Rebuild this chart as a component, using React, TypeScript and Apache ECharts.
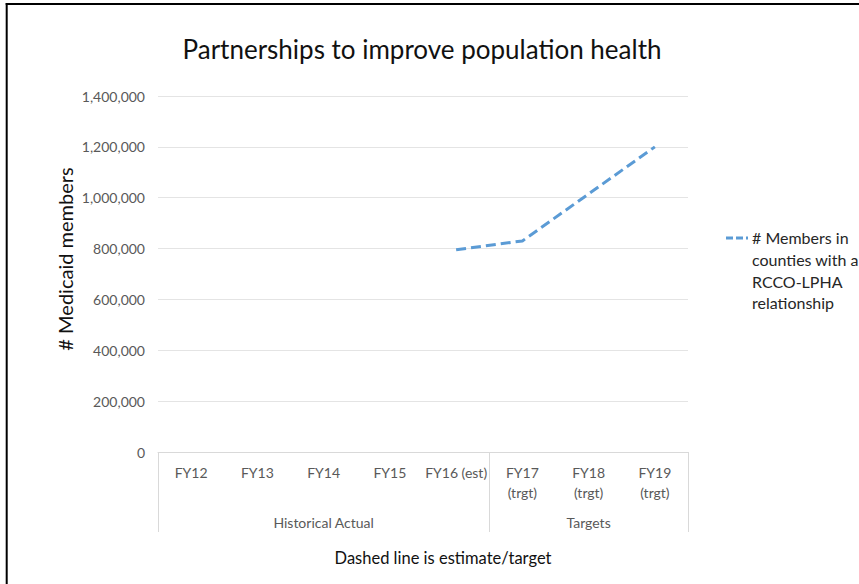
import React, { useEffect, useRef } from "react";
import * as echarts from "echarts";

const categories = [
  "FY12",
  "FY13",
  "FY14",
  "FY15",
  "FY16 (est)",
  "FY17\n(trgt)",
  "FY18\n(trgt)",
  "FY19\n(trgt)",
];
const groupLabels = ["Historical Actual", "Targets"];
const groupSizes = [5, 3];
const members: (number | null)[] = [null, null, null, null, 795000, 830000, 1015000, 1200000];
const yMin = 0;
const yMax = 1400000;
const yInterval = 200000;
const titleText = "Partnerships to improve population health";
const yAxisTitle = "# Medicaid members";
const xAxisTitle = "Dashed line is estimate/target";
const seriesName = "# Members in counties with a RCCO-LPHA relationship";
const legendLines = ["# Members in", "counties with a", "RCCO-LPHA", "relationship"];

const FONT = "Lato, 'Open Sans', sans-serif";
const LINE_COLOR = "#5B9BD5";
const GRID_LEFT = 158;
const GRID_RIGHT = 171;
const GRID_TOP = 96;
const GRID_BOTTOM = 132;

export default function App() {
  const ref = useRef<HTMLDivElement>(null);
  useEffect(() => {
    if (!ref.current) return;
    const chart = echarts.init(ref.current, null, { renderer: "svg" });
    chart.setOption({
      animation: false,
      backgroundColor: "#ffffff",
      title: {
        text: titleText,
        left: 422,
        top: 36,
        textAlign: "center",
        padding: 0,
        textStyle: { fontFamily: FONT, fontSize: 26, fontWeight: "normal", color: "#111" },
      },
      grid: { left: GRID_LEFT, right: GRID_RIGHT, top: GRID_TOP, bottom: GRID_BOTTOM },
      xAxis: {
        type: "category",
        data: categories,
        boundaryGap: true,
        axisLine: { show: true, lineStyle: { color: "#d9d9d9", width: 1 } },
        axisTick: { show: false },
        axisLabel: {
          interval: 0,
          color: "#595959",
          fontFamily: FONT,
          fontSize: 14,
          lineHeight: 20,
          margin: 10,
        },
        splitLine: { show: false },
      },
      yAxis: {
        type: "value",
        min: yMin,
        max: yMax,
        interval: yInterval,
        axisLine: { show: false },
        axisTick: { show: false },
        axisLabel: {
          color: "#595959",
          fontFamily: FONT,
          fontSize: 14,
          margin: 13,
          formatter: (v: number) => v.toLocaleString("en-US"),
        },
        splitLine: { lineStyle: { color: "#e4e4e4", width: 1 } },
      },
      series: [
        {
          name: seriesName,
          type: "line",
          data: members,
          symbol: "none",
          connectNulls: false,
          lineStyle: { color: LINE_COLOR, width: 3, type: [10, 5] },
        },
      ],
    });

    const c0 = chart.convertToPixel({ xAxisIndex: 0 }, 0) as number;
    const c1 = chart.convertToPixel({ xAxisIndex: 0 }, 1) as number;
    const band = c1 - c0;
    const left = c0 - band / 2;
    const axisY = chart.convertToPixel({ yAxisIndex: 0 }, 0) as number;
    const sepBottom = axisY + 80;

    const graphics: any[] = [];
    let acc = 0;
    const boundaries = [0];
    groupSizes.forEach((s) => {
      acc += s;
      boundaries.push(acc);
    });
    boundaries.forEach((b, i) => {
      const x = Math.round(left + b * band) + 0.5;
      graphics.push({
        type: "line",
        id: "sep" + i,
        shape: { x1: x, y1: axisY, x2: x, y2: sepBottom },
        style: { stroke: "#d9d9d9", lineWidth: 1 },
      });
    });
    groupLabels.forEach((g, i) => {
      const mid = left + ((boundaries[i] + boundaries[i + 1]) / 2) * band;
      graphics.push({
        type: "text",
        id: "grp" + i,
        x: mid,
        y: axisY + 70,
        style: {
          text: g,
          fontFamily: FONT,
          fontSize: 14,
          fill: "#595959",
          align: "center",
          verticalAlign: "middle",
        },
      });
    });
    graphics.push({
      type: "text",
      id: "yname",
      x: 65,
      y: 259,
      rotation: Math.PI / 2,
      style: {
        text: yAxisTitle,
        fontFamily: FONT,
        fontSize: 20,
        fill: "#111",
        align: "center",
        verticalAlign: "middle",
      },
    });
    graphics.push({
      type: "text",
      id: "xname",
      x: 443,
      y: 558,
      style: {
        text: xAxisTitle,
        fontFamily: FONT,
        fontSize: 16.5,
        fill: "#111",
        align: "center",
        verticalAlign: "middle",
      },
    });
    // legend
    graphics.push({
      type: "line",
      id: "legline",
      shape: { x1: 726, y1: 238, x2: 748, y2: 238 },
      style: { stroke: LINE_COLOR, lineWidth: 3, lineDash: [7, 3] },
    });
    graphics.push({
      type: "text",
      id: "legtext",
      x: 752,
      y: 227,
      style: {
        text: legendLines.join("\n"),
        fontFamily: FONT,
        fontSize: 16,
        lineHeight: 21.7,
        fill: "#262626",
        align: "left",
        verticalAlign: "top",
      },
    });
    // outer frame (only left and top edges are inside the picture)
    graphics.push({
      type: "line",
      id: "frameLeft",
      shape: { x1: 6.7, y1: 3, x2: 6.7, y2: 584 },
      style: { stroke: "#000", lineWidth: 2 },
    });
    graphics.push({
      type: "line",
      id: "frameTop",
      shape: { x1: 5.7, y1: 4, x2: 859, y2: 4 },
      style: { stroke: "#000", lineWidth: 2 },
    });
    chart.setOption({ graphic: graphics });

    return () => chart.dispose();
  }, []);
  return (
    <div
      ref={ref}
      style={{ position: "absolute", left: 0, top: 0, width: 859, height: 584 }}
    />
  );
}
